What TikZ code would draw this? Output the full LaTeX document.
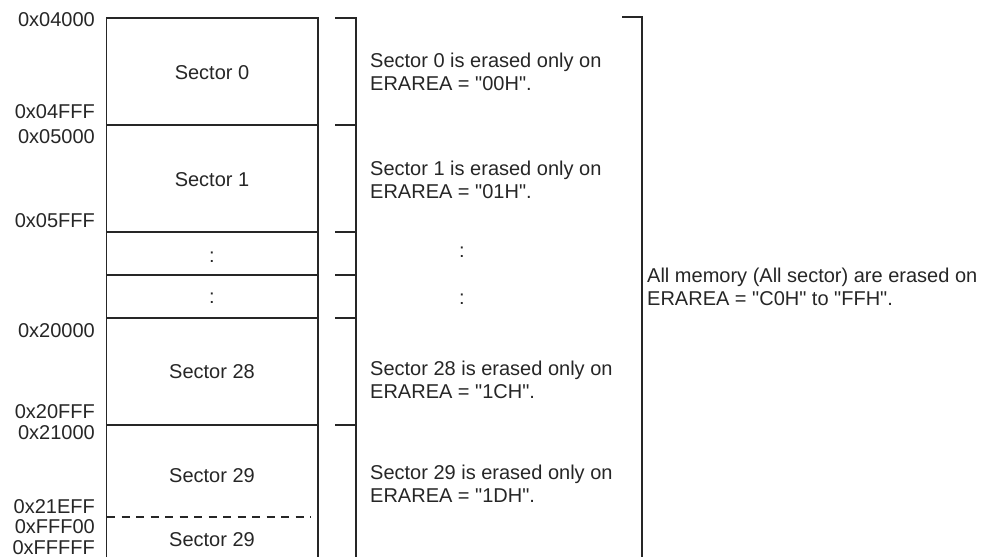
\documentclass[tikz,border=0pt]{standalone}
\usepackage{fontspec}
\newfontfamily\mapfont{Liberation Sans}
\usetikzlibrary{positioning}
\tikzset{
  memline/.style={line width=1.5pt, black!85},
  addr/.style={anchor=base east, inner sep=0pt, text=black!85},
  secname/.style={anchor=base, inner sep=0pt, text=black!85},
  note/.style={anchor=base west, inner sep=0pt, align=left, text=black!85},
}
\begin{document}
\begin{tikzpicture}[x=1pt, y=-1pt, font=\mapfont\fontsize{20}{22.5}\selectfont]
  \useasboundingbox (0,0) rectangle (992,557);
  % memory map
  \draw[memline] (106.5,557) -- (106.5,18) -- (318,18) -- (318,557);
  \foreach \y in {125,232,275,318,425}
    \draw[memline] (106.5,\y) -- (318,\y);
  \draw[memline, dash pattern=on 8pt off 6.5pt] (107,517) -- (311,517);
  % brackets
  \draw[memline] (335,18) -- (356,18) -- (356,557);
  \foreach \y in {125,232,275,318,425}
    \draw[memline] (335,\y) -- (356,\y);
  \draw[memline] (622,17) -- (642,17) -- (642,557);
  % addresses
  \foreach \y/\t [count=\i] in {26/0x04000, 118/0x04FFF, 143/0x05000,
      227/0x05FFF, 337/0x20000, 418/0x20FFF, 439/0x21000, 513/0x21EFF,
      533/0xFFF00, 554/0xFFFFF}
    \node[addr] (addr\i) at (95,\y) {\t};
  % sector names
  \node[secname] (sec0) at (212,79) {Sector 0};
  \node[secname] (sec1) at (212,186) {Sector 1};
  \node[secname] (dotsa) at (212,262) {:};
  \node[secname] (dotsb) at (212,303) {:};
  \node[secname] (sec28) at (212,378) {Sector 28};
  \node[secname] (sec29) at (212,482) {Sector 29};
  \node[secname] (sec29b) at (212,546) {Sector 29};
  % erase notes (base = last line)
  \node[note] (note0) at (370,90) {Sector 0 is erased only on\\ERAREA = "00H".};
  \node[note] (note1) at (370,198) {Sector 1 is erased only on\\ERAREA = "01H".};
  \node[secname] (notedotsa) at (462,257) {:};
  \node[secname] (notedotsb) at (462,304) {:};
  \node[note] (note28) at (370,398) {Sector 28 is erased only on\\ERAREA = "1CH".};
  \node[note] (note29) at (370,502) {Sector 29 is erased only on\\ERAREA = "1DH".};
  \node[note] (noteall) at (647,305) {All memory (All sector) are erased on\\ERAREA = "C0H" to "FFH".};
\end{tikzpicture}
\end{document}
